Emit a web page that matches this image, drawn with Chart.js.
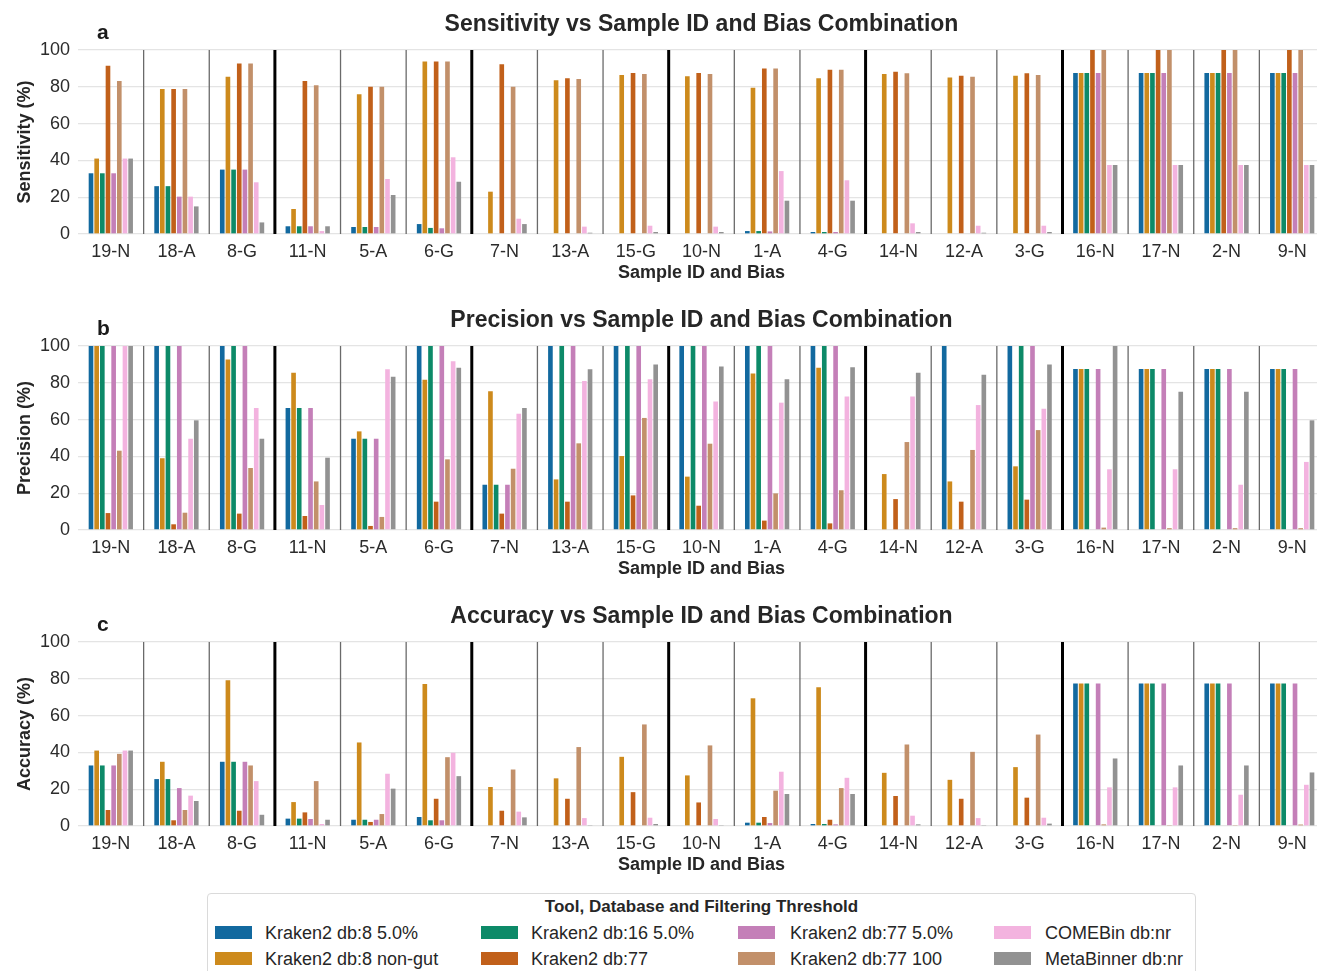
<!DOCTYPE html>
<html>
<head>
<meta charset="utf-8">
<script src="https://cdn.jsdelivr.net/npm/chart.js@4.4.1/dist/chart.umd.min.js"></script>
<style>
  html, body { margin: 0; padding: 0; background: #fff; overflow: hidden; width: 1317px; height: 971px; }
  .panel { position: absolute; left: 0; width: 1325px; height: 296px; }
  #legend {
    position: absolute; left: 207px; top: 893px; width: 987px; height: 100px;
    border: 1px solid #dadada; border-radius: 4px; background: #fff;
    font-family: "Liberation Sans", Arial, sans-serif; color: #262626;
  }
  #legend .ttl { position: absolute; left: 0; right: 0; top: 3px; text-align: center; font-weight: bold; font-size: 17px; }
  #legend .sw { position: absolute; width: 37px; height: 13px; }
  #legend .lb { position: absolute; font-size: 18px; line-height: 20px; white-space: nowrap; }
</style>
</head>
<body>
<canvas id="chartA" class="panel" width="1325" height="296" style="top:0px"></canvas>
<canvas id="chartB" class="panel" width="1325" height="296" style="top:296px"></canvas>
<canvas id="chartC" class="panel" width="1325" height="296" style="top:592px"></canvas>
<div id="legend"><div class="ttl">Tool, Database and Filtering Threshold</div></div>

<script>
// --- data ---
const samples = ["19-N", "18-A", "8-G", "11-N", "5-A", "6-G", "7-N", "13-A", "15-G", "10-N",
  "1-A", "4-G", "14-N", "12-A", "3-G", "16-N", "17-N", "2-N", "9-N"];

const toolNames = [
  "Kraken2 db:8 5.0%", "Kraken2 db:8 non-gut", "Kraken2 db:16 5.0%", "Kraken2 db:77",
  "Kraken2 db:77 5.0%", "Kraken2 db:77 100", "COMEBin db:nr", "MetaBinner db:nr"
];
const toolColors = ["#12699f", "#cd8a1c", "#0d8a68", "#c1601a", "#c47fb8", "#c2906a", "#f3b3df", "#929292"];

const yTicks = [0, 20, 40, 60, 80, 100];

// one row per tool, one value per sample
const sensitivity = [
  [33, 26, 35, 4.2, 3.8, 5.4, 0, 0, 0, 0, 1.6, 1.1, 0, 0, 0, 87.5, 87.5, 87.5, 87.5],
  [41, 78.8, 85.5, 13.6, 75.9, 93.8, 23, 83.5, 86.4, 85.7, 79.5, 84.6, 87, 85, 86, 87.5, 87.5, 87.5, 87.5],
  [33, 26, 35, 4.2, 3.8, 3.3, 0, 0, 0, 0, 1.6, 1.1, 0, 0, 0, 87.5, 87.5, 87.5, 87.5],
  [91.5, 78.8, 92.6, 83.2, 80, 93.8, 92.2, 84.6, 87.5, 87.5, 89.9, 89.3, 88.2, 86, 87.3, 100, 100, 100, 100],
  [33, 20.3, 35, 4.2, 3.8, 3.1, 0, 0, 0, 0, 1.4, 1.1, 0, 0, 0, 87.5, 87.5, 87.5, 87.5],
  [83.2, 78.8, 92.6, 80.8, 80, 93.8, 80, 84.2, 87, 87, 89.9, 89.3, 87.3, 85.5, 86.4, 100, 100, 100, 100],
  [41, 20.3, 28.1, 1.6, 29.9, 41.7, 8.3, 4, 4.5, 4, 34.2, 29.2, 5.8, 4.5, 4.5, 37.5, 37.5, 37.5, 37.5],
  [41, 15, 6.3, 4.2, 21.2, 28.4, 5.4, 0.7, 1.1, 1.1, 18.1, 18.1, 1.1, 0.7, 1.1, 37.5, 37.5, 37.5, 37.5]
];

const precision = [
  [100, 100, 100, 66.3, 49.6, 100, 24.6, 100, 100, 100, 100, 100, 0, 100, 100, 87.5, 87.5, 87.5, 87.5],
  [100, 39, 92.6, 85.5, 53.6, 81.7, 75.4, 27.5, 40.2, 29, 85.1, 88.2, 30.4, 26.4, 34.6, 87.5, 87.5, 87.5, 87.5],
  [100, 100, 100, 66.3, 49.6, 100, 24.6, 100, 100, 100, 100, 100, 0, 0, 100, 87.5, 87.5, 87.5, 87.5],
  [9.2, 3.1, 8.9, 7.6, 2.2, 15.4, 8.9, 15.4, 18.8, 13.2, 5.1, 3.6, 16.8, 15.4, 16.5, 0, 0, 0, 0],
  [100, 100, 100, 66.3, 49.6, 100, 24.6, 100, 100, 100, 100, 100, 0, 0, 100, 87.5, 87.5, 87.5, 87.5],
  [43.1, 9.4, 33.7, 26.4, 7.1, 38.4, 33.3, 47.1, 60.9, 46.9, 19.9, 21.6, 47.8, 43.5, 54.3, 1.3, 1, 1, 1],
  [100, 49.6, 66.3, 13.6, 87.3, 91.7, 63.2, 81, 81.9, 69.9, 69.2, 72.6, 72.6, 67.9, 65.9, 33, 33, 24.6, 37],
  [100, 59.6, 49.6, 39.3, 83.3, 88.2, 66.3, 87.3, 89.9, 88.9, 81.9, 88.4, 85.5, 84.4, 89.9, 100, 75.2, 75.2, 59.6]
];

const accuracy = [
  [32.9, 25.5, 34.9, 4, 3.4, 4.9, 0, 0, 0, 0, 1.8, 1.1, 0, 0, 0, 77.5, 77.5, 77.5, 77.5],
  [41, 34.9, 79.2, 13, 45.4, 77.2, 21.2, 25.9, 37.6, 27.5, 69.4, 75.4, 28.9, 25.1, 32, 77.5, 77.5, 77.5, 77.5],
  [32.9, 25.5, 34.9, 4, 3.4, 3.1, 0, 0, 0, 0, 1.8, 1.1, 0, 0, 0, 77.5, 77.5, 77.5, 77.5],
  [8.7, 3.1, 8.3, 7.4, 2.2, 14.8, 8.3, 14.8, 18.4, 12.8, 4.9, 3.4, 16.3, 14.8, 15.4, 0, 0, 0, 0],
  [32.9, 20.6, 34.9, 3.8, 3.4, 3.1, 0, 0, 0, 0, 1.6, 0.9, 0, 0, 0, 77.5, 77.5, 77.5, 77.5],
  [39.2, 8.7, 32.9, 24.4, 6.5, 37.4, 30.7, 42.9, 55.2, 43.8, 19.2, 20.6, 44.3, 40.3, 49.7, 0.9, 0.5, 0.5, 0.8],
  [41, 16.5, 24.4, 1.1, 28.4, 39.8, 7.8, 4.3, 4.5, 3.8, 29.5, 26.2, 5.6, 4.3, 4.5, 21, 21, 17, 22.4],
  [41, 13.6, 6.1, 3.4, 20.3, 27.1, 4.7, 0.5, 1.1, 0.5, 17.4, 17.4, 0.9, 0.2, 1.3, 36.7, 32.9, 32.9, 29.1]
];

// thick black separator after these sample indices
const groupEnds = [2, 5, 8, 11, 14];

Chart.defaults.font.family = '"Liberation Sans", Arial, sans-serif';
Chart.defaults.color = "#262626";

// vertical lines between samples
const separatorPlugin = {
  id: "separators",
  afterDatasetsDraw(chart) {
    const { ctx, chartArea, scales } = chart;
    const x = scales.x;
    ctx.save();
    for (let i = 1; i < samples.length; i++) {
      const px = (x.getPixelForValue(i - 1) + x.getPixelForValue(i)) / 2;
      const thick = groupEnds.includes(i - 1);
      ctx.beginPath();
      ctx.strokeStyle = thick ? "#000" : "#6a6a6a";
      ctx.lineWidth = thick ? 3 : 1.3;
      ctx.moveTo(px, chartArea.top);
      ctx.lineTo(px, chartArea.bottom);
      ctx.stroke();
    }
    ctx.restore();
  },
};

// small bold panel letter (a, b, c)
const letterPlugin = {
  id: "panelLetter",
  afterDraw(chart, args, opts) {
    const { ctx, chartArea } = chart;
    ctx.save();
    ctx.font = 'bold 21px "Liberation Sans", Arial, sans-serif';
    ctx.fillStyle = "#1a1a1a";
    ctx.textAlign = "left";
    ctx.textBaseline = "alphabetic";
    ctx.fillText(opts.text, chartArea.left + 19, chartArea.top - 11);
    ctx.restore();
  },
};

function makePanel(canvasId, letter, title, yTitle, values) {
  const ctx = document.getElementById(canvasId).getContext("2d");
  return new Chart(ctx, {
    type: "bar",
    data: {
      labels: samples,
      datasets: toolNames.map((name, i) => ({
        label: name,
        data: values[i],
        backgroundColor: toolColors[i],
        borderWidth: 0,
        categoryPercentage: 0.69,
        barPercentage: 0.82,
      })),
    },
    options: {
      responsive: false,
      animation: false,
      layout: { padding: { top: 0, left: 0, right: 0, bottom: 10 } },
      scales: {
        x: {
          grid: { display: false, drawTicks: false },
          border: { display: false },
          ticks: { font: { size: 18 }, color: "#2b2b2b", padding: 7, maxRotation: 0, autoSkip: false },
          title: {
            display: true,
            text: "Sample ID and Bias",
            font: { size: 18, weight: "bold" },
            color: "#262626",
            padding: { top: 0, bottom: 2 },
          },
          afterFit: (scale) => { scale.height = 52; },
        },
        y: {
          min: 0,
          max: 100,
          afterBuildTicks: (scale) => { scale.ticks = yTicks.map((v) => ({ value: v })); },
          grid: { color: "#e4e4e4", lineWidth: 1.3, drawTicks: false },
          border: { display: false },
          ticks: { font: { size: 18 }, color: "#2b2b2b", padding: 8 },
          title: {
            display: true,
            text: yTitle,
            font: { size: 18, weight: "bold" },
            color: "#262626",
            padding: { top: 14, bottom: 0 },
          },
          afterFit: (scale) => { scale.width = 78; },
        },
      },
      plugins: {
        legend: { display: false },
        tooltip: { enabled: false },
        title: {
          display: true,
          fullSize: false,
          text: title,
          font: { size: 23, weight: "bold" },
          color: "#262626",
          padding: { top: 11, bottom: 11.4 },
        },
        panelLetter: { text: letter },
      },
    },
    plugins: [separatorPlugin, letterPlugin],
  });
}

makePanel("chartA", "a", "Sensitivity vs Sample ID and Bias Combination", "Sensitivity (%)", sensitivity);
makePanel("chartB", "b", "Precision vs Sample ID and Bias Combination", "Precision (%)", precision);
makePanel("chartC", "c", "Accuracy vs Sample ID and Bias Combination", "Accuracy (%)", accuracy);

// legend laid out in columns of two, like the figure
const legendEl = document.getElementById("legend");
const colSwatch = [7, 273, 530, 786];
const colText = [57, 323, 582, 837];
const rowMid = [39, 65];
toolNames.forEach((name, i) => {
  const col = Math.floor(i / 2);
  const row = i % 2;
  const sw = document.createElement("div");
  sw.className = "sw";
  sw.style.left = colSwatch[col] + "px";
  sw.style.top = (rowMid[row] - 7) + "px";
  sw.style.background = toolColors[i];
  legendEl.appendChild(sw);
  const lb = document.createElement("div");
  lb.className = "lb";
  lb.style.left = colText[col] + "px";
  lb.style.top = (rowMid[row] - 10) + "px";
  lb.textContent = name;
  legendEl.appendChild(lb);
});
</script>
</body>
</html>
